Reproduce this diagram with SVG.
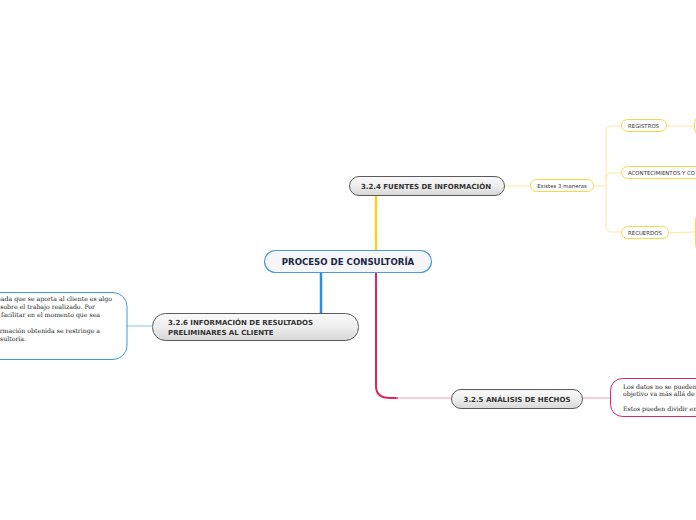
<svg xmlns="http://www.w3.org/2000/svg" width="696" height="520" viewBox="0 0 696 520">
<defs>
<linearGradient id="grey" x1="0" y1="0" x2="0" y2="1">
<stop offset="0" stop-color="#fafafa"/>
<stop offset="0.5" stop-color="#eeeeee"/>
<stop offset="1" stop-color="#d6d6d6"/>
</linearGradient>
<style>
.main{fill:#f6f6f8;stroke:#4a9be0;stroke-width:1.2}
.sub{fill:url(#grey);stroke:#5a5a5a;stroke-width:1}
.sm{fill:#fff;stroke:#f8d84a;stroke-width:1}
.t-main{font-family:"DejaVu Sans",Verdana,sans-serif;font-weight:bold;font-size:8.6px;fill:#1b2747}
.t-sub{font-family:"DejaVu Sans",Verdana,sans-serif;font-weight:bold;font-size:7px;fill:#333}
.t-sm{font-family:"DejaVu Sans",Verdana,sans-serif;font-size:5.4px;fill:#333}
.t-serif{font-family:"DejaVu Serif","Liberation Serif",serif;font-size:6.2px;fill:#222}
.c{fill:none}
</style>
</defs>
<rect width="696" height="520" fill="#ffffff"/>
<g id="connectors">
<path class="c" d="M376 196 V250" stroke="#f5d21e" stroke-width="2.5"/>
<path class="c" d="M321 273 V313" stroke="#2a8fe2" stroke-width="2.5"/>
<path class="c" d="M376 273 V386 Q376 398 390 398 H398" stroke="#e0245e" stroke-width="2"/>
<path class="c" d="M396 398 H451" stroke="#f49ab9" stroke-width="1"/>
<path class="c" d="M127 326 H152" stroke="#8cc4f0" stroke-width="1"/>
<path class="c" d="M583 398 H610" stroke="#f49ab9" stroke-width="1"/>
<path class="c" d="M505 186 H530" stroke="#fbe8a0" stroke-width="1"/>
<path class="c" d="M594 186 H606" stroke="#fbe8a0" stroke-width="1"/>
<path class="c" d="M621 126 H612 Q606 126 606 132 V226 Q606 232 612 232 H621" stroke="#fbe8a0" stroke-width="1"/>
<path class="c" d="M606 179 Q606 173 612 173 H621" stroke="#fbe8a0" stroke-width="1"/>
<path class="c" d="M667 126 H694" stroke="#fbe8a0" stroke-width="1"/>
<path class="c" d="M669 233 Q682 232 696 232" stroke="#fbe8a0" stroke-width="1"/>
</g>
<g id="n-main">
<rect class="main" x="264.5" y="250.5" width="167" height="22" rx="11"/>
<text class="t-main" x="348" y="265" text-anchor="middle">PROCESO DE CONSULTORÍA</text>
</g>
<g id="n-324">
<rect class="sub" x="349.5" y="176.5" width="155" height="19" rx="9.5"/>
<text class="t-sub" x="426" y="188.5" text-anchor="middle">3.2.4 FUENTES DE INFORMACIÓN</text>
</g>
<g id="n-326">
<rect class="sub" x="152.5" y="313.5" width="206" height="27" rx="13"/>
<text class="t-sub" x="168" y="325">3.2.6 INFORMACIÓN DE RESULTADOS</text>
<text class="t-sub" x="168" y="334.5">PRELIMINARES AL CLIENTE</text>
</g>
<g id="n-325">
<rect class="sub" x="451.5" y="389.5" width="131" height="19" rx="9.5"/>
<text class="t-sub" x="517" y="401.5" text-anchor="middle">3.2.5 ANÁLISIS DE HECHOS</text>
</g>
<g id="n-326-text">
<rect x="-30" y="292.5" width="157" height="67" rx="14" fill="#fff" stroke="#3a9be2" stroke-width="1"/>
<text class="t-serif" x="112" y="300.5" text-anchor="end">onada que se aporta al cliente es algo</text>
<text class="t-serif" x="95" y="308.5" text-anchor="end">sobre el trabajo realizado. Por</text>
<text class="t-serif" x="100" y="316.5" text-anchor="end">e facilitar en el momento que sea</text>
<text class="t-serif" x="100" y="333" text-anchor="end">formación obtenida se restringe a</text>
<text class="t-serif" x="26" y="341" text-anchor="end">sultoría.</text>
</g>
<g id="n-325-text">
<rect x="610.5" y="378.5" width="120" height="38" rx="12" fill="#fff" stroke="#e0246a" stroke-width="1"/>
<text class="t-serif" x="623" y="388.5">Los datos no se pueden</text>
<text class="t-serif" x="623" y="396">objetivo va más allá de l</text>
<text class="t-serif" x="623" y="410.5">Estos pueden dividir en</text>
</g>
<g id="n-existes">
<rect class="sm" x="530.5" y="179.5" width="63" height="12" rx="6"/>
<text class="t-sm" x="562" y="187.7" text-anchor="middle">Existes 3 maneras</text>
</g>
<g id="n-registros">
<rect class="sm" x="621.5" y="119.5" width="45" height="12" rx="6"/>
<text class="t-sm" x="628" y="127.7">REGISTROS</text>
</g>
<g id="n-acontecimientos">
<rect class="sm" x="621.5" y="166.5" width="100" height="12" rx="6"/>
<text class="t-sm" x="628" y="174.7">ACONTECIMIENTOS Y CO</text>
</g>
<g id="n-recuerdos">
<rect class="sm" x="621.5" y="226.5" width="47" height="12" rx="6"/>
<text class="t-sm" x="628" y="234.7">RECUERDOS</text>
</g>
<g id="n-registros-child">
<rect class="sm" x="694.5" y="113.5" width="40" height="24" rx="10"/>
</g>
<g id="n-recuerdos-child">
<rect class="sm" x="695.5" y="212.5" width="40" height="40" rx="8"/>
</g>
</svg>
